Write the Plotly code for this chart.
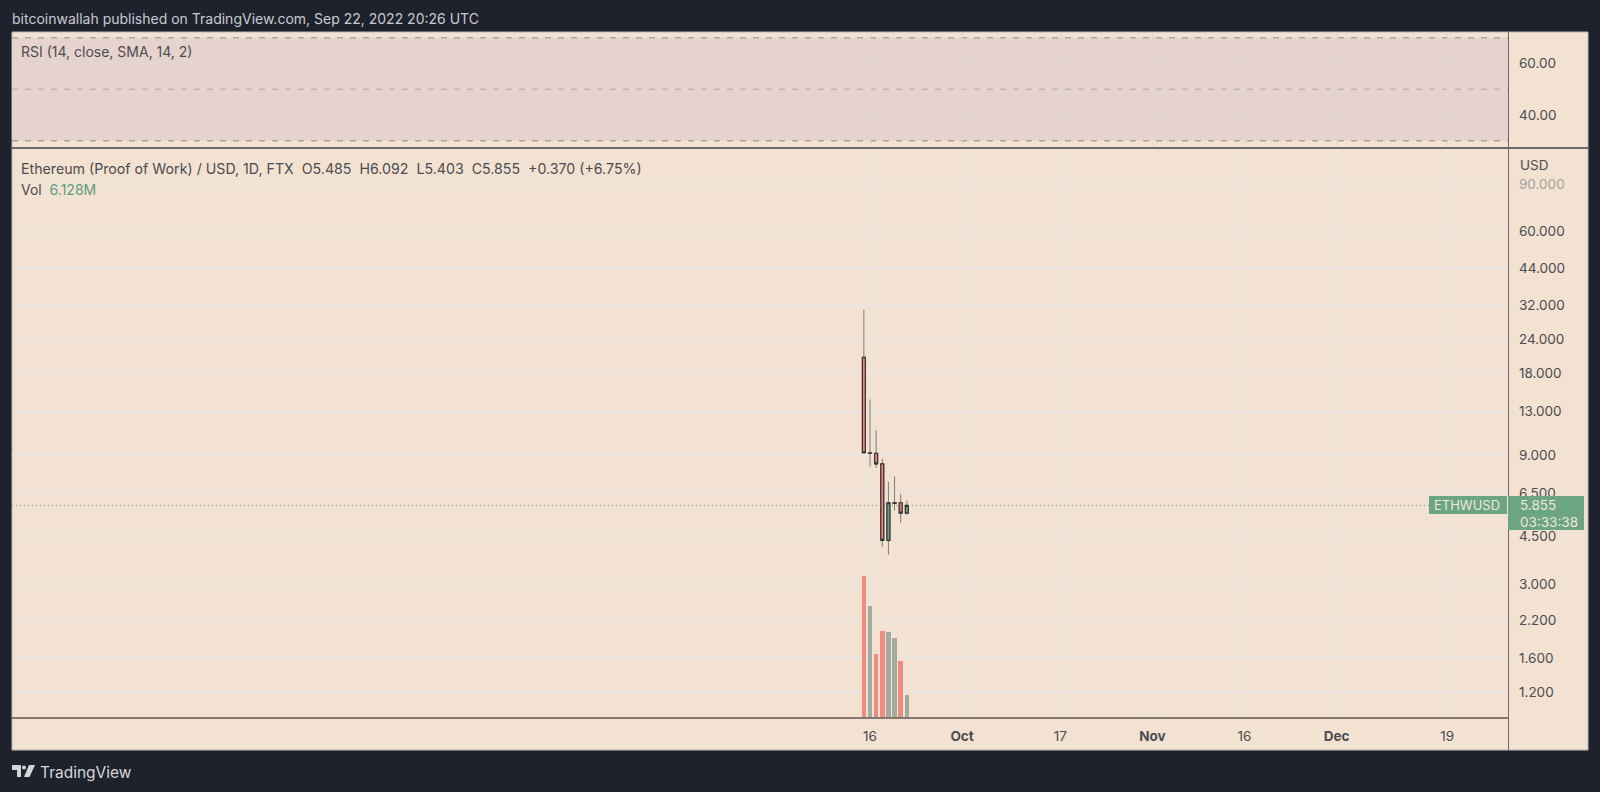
import pandas as pd
import plotly.graph_objects as go

W = 1600
H = 792

# daily candles
dates = ['2022-09-15', '2022-09-16', '2022-09-17', '2022-09-18', '2022-09-19', '2022-09-20', '2022-09-21', '2022-09-22']
opens = [20.6, 9.16, 9.12, 8.34, 4.35, 5.96, 5.99, 5.485]
highs = [30.85, 14.4, 11.1, 8.70, 7.16, 7.49, 6.46, 6.092]
lows = [9.10, 8.13, 8.05, 4.12, 3.85, 5.61, 5.05, 5.403]
closes = [9.16, 9.12, 8.34, 4.35, 5.99, 5.99, 5.485, 5.855]
volumes = [37.9, 29.9, 17.1, 23.2, 22.9, 21.3, 15.2, 6.128]
vol_colors = ['#EF8C80', '#A3AAA0', '#EF8C80', '#EF8C80', '#A3AAA0', '#A3AAA0', '#EF8C80', '#A3AAA0']

price_ticks = [90, 60, 44, 32, 24, 18, 13, 9, 6.5, 4.5, 3, 2.2, 1.6, 1.2]
price_labels = ['<span style="color:#A3A19E">90.000</span>', '60.000', '44.000', '32.000', '24.000', '18.000',
                '13.000', '9.000', '6.500', '4.500', '3.000', '2.200', '1.600', '1.200']
rsi_ticks = [60, 40]
rsi_labels = ['60.00', '40.00']
rsi_bands = [70, 50, 30]
date_ticks = ['2022-09-16', '2022-10-01', '2022-10-17', '2022-11-01', '2022-11-16', '2022-12-01', '2022-12-19']
date_labels = ['16', '<b>Oct</b>', '17', '<b>Nov</b>', '16', '<b>Dec</b>', '19']

BG = '#1E222D'
BEIGE = '#F3E1D1'
PINK = '#E6D3CE'
GRID = '#EBE5E1'
LINE = '#6A6A6C'
TEXT = '#4A4C52'
GREEN = '#6BA583'
RED = '#EF8377'
FONT = 'Inter, Roboto, sans-serif'


def px(x):
    return x / W


def py(y):
    return 1 - y / H


def rect(x0, y0, x1, y1, fill, layer='below', line=None):
    return dict(type='rect', xref='paper', yref='paper', x0=px(x0), x1=px(x1), y0=py(y0), y1=py(y1),
                fillcolor=fill, line=dict(color=line, width=1) if line else dict(width=0), layer=layer)


def seg(x0, y0, x1, y1, color=LINE, width=1):
    return dict(type='line', xref='paper', yref='paper', x0=px(x0), x1=px(x1), y0=py(y0), y1=py(y1),
                line=dict(color=color, width=width), layer='above')


def label(x, y, text, color=TEXT, size=14, font=FONT):
    return dict(xref='paper', yref='paper', x=px(x), y=py(y), text=text, showarrow=False, xanchor='left',
                yanchor='middle', font=dict(color=color, size=size, family=font))


# 6.14 px per day, Sep 16 sits at x=870
sep16 = pd.Timestamp('2022-09-16')
x_start = sep16 + pd.Timedelta(days=(12 - 870) / 6.14)
x_end = sep16 + pd.Timedelta(days=(1508 - 870) / 6.14)
tag_start = sep16 + pd.Timedelta(days=(1429 - 870) / 6.14)

body_high = [max(o, c) for o, c in zip(opens, closes)]
body_low = [min(o, c) for o, c in zip(opens, closes)]

fig = go.Figure()

fig.add_trace(go.Scatter(x=[x_start, x_end], y=[70, 30], mode='none', xaxis='x', yaxis='y', showlegend=False))

fig.add_trace(go.Bar(x=dates, y=volumes, marker=dict(color=vol_colors, line=dict(width=0)),
                     width=0.75 * 86400000, xaxis='x2', yaxis='y3', showlegend=False))

fig.add_trace(go.Scatter(x=[x_start, tag_start], y=[closes[-1], closes[-1]], mode='lines',
                         line=dict(color='#5E8F78', width=1, dash='1px 3px'), xaxis='x2', yaxis='y2', showlegend=False))

# wicks are lighter than the body outline, so two passes
fig.add_trace(go.Candlestick(x=dates, open=opens, high=highs, low=lows, close=closes, xaxis='x2', yaxis='y2',
                             increasing=dict(fillcolor=GREEN, line=dict(color='#7D7A76', width=1)),
                             decreasing=dict(fillcolor=RED, line=dict(color='#7D7A76', width=1)),
                             showlegend=False))
fig.add_trace(go.Candlestick(x=dates, open=opens, high=body_high, low=body_low, close=closes, xaxis='x2', yaxis='y2',
                             increasing=dict(fillcolor=GREEN, line=dict(color='#33343A', width=1.2)),
                             decreasing=dict(fillcolor=RED, line=dict(color='#33343A', width=1.2)),
                             showlegend=False))

shapes = [
    rect(12, 32, 1588, 750, BEIGE, line='#B9B8B3'),
    dict(type='rect', xref='x', yref='y', x0=x_start, x1=x_end, y0=rsi_bands[2], y1=rsi_bands[0],
         fillcolor=PINK, line=dict(width=0), layer='below'),
    seg(1508.5, 32, 1508.5, 750),
    seg(12, 148, 1588, 148, width=2),
    seg(12, 718, 1508, 718, color='#85796F', width=2),
    # price tags
    rect(1429, 496, 1507, 514, GREEN, layer='above'),
    rect(1508, 496, 1584, 530, GREEN, layer='above'),
    # logo
    dict(type='path', xref='paper', yref='paper', fillcolor='#D5D6DA', line=dict(width=0), layer='above',
         path='M {} {} L {} {} L {} {} L {} {} L {} {} L {} {} Z'.format(
             px(12), py(765), px(21), py(765), px(21), py(777), px(17), py(777), px(17), py(770), px(12), py(770))),
    dict(type='circle', xref='paper', yref='paper', fillcolor='#D5D6DA', line=dict(width=0), layer='above',
         x0=px(22), x1=px(26), y0=py(769.5), y1=py(765.5)),
    dict(type='path', xref='paper', yref='paper', fillcolor='#D5D6DA', line=dict(width=0), layer='above',
         path='M {} {} L {} {} L {} {} L {} {} Z'.format(
             px(29), py(765), px(35), py(765), px(29.5), py(777), px(24), py(777))),
]
for level in rsi_bands:
    shapes.append(dict(type='line', xref='x', yref='y', x0=x_start, x1=x_end, y0=level, y1=level, layer='below',
                       line=dict(color='#A3A79D' if level != 50 else '#BDB9B0', width=1.5, dash='6px 7px')))

annotations = [
    label(10, 18.5, 'bitcoinwallah published on TradingView.com, Sep 22, 2022 20:26 UTC', color='#C9CBD1'),
    label(19, 51, 'RSI (14, close, SMA, 14, 2)'),
    label(19, 168, 'Ethereum (Proof of Work) / USD, 1D, FTX&nbsp;&nbsp;O5.485&nbsp;&nbsp;H6.092&nbsp;&nbsp;L5.403&nbsp;&nbsp;C5.855&nbsp;&nbsp;+0.370 (+6.75%)', size=14.2),
    label(19, 189, 'Vol&nbsp;&nbsp;<span style="color:#5F9F80">6.128M</span>'),
    label(1518, 165, 'USD', size=13.5),
    label(1432, 505, 'ETHWUSD', color='#F3E6DA', size=13),
    label(1518, 505, '5.855', color='#F3E6DA', size=13.5),
    label(1518, 522, '03:33:38', color='#F3E6DA', size=13.5),
    label(38, 772, 'TradingView', color='#D5D6DA', size=15.5),
]

common_x = dict(type='date', range=[x_start, x_end], showgrid=True, gridwidth=1, zeroline=False,
                tickmode='array', tickvals=date_ticks, ticks='', showline=False, rangeslider=dict(visible=False))

fig.update_layout(
    width=W,
    height=H,
    autosize=False,
    margin=dict(l=0, r=0, t=0, b=0),
    paper_bgcolor=BG,
    plot_bgcolor='rgba(0,0,0,0)',
    bargap=0,
    font=dict(family=FONT, color=TEXT, size=13.5),
    xaxis=dict(common_x, domain=[px(12), px(1508)], anchor='y', showticklabels=False, gridcolor='#E0D6DA'),
    yaxis=dict(domain=[py(148), py(32)], range=[27.2, 72.25], side='right', anchor='x', showgrid=True,
               gridcolor='#E0D6DA', zeroline=False, tickmode='array', tickvals=rsi_ticks, ticktext=rsi_labels,
               ticks='', ticklabelstandoff=10),
    xaxis2=dict(common_x, domain=[px(12), px(1508)], anchor='y2', ticktext=date_labels, showticklabels=True,
                gridcolor=GRID, gridwidth=1.5, ticklabelstandoff=8, tickfont=dict(color=TEXT, size=13.5)),
    yaxis2=dict(domain=[py(718), py(148)], type='log', range=[-0.0168, 2.0864], side='right', anchor='x2',
                showgrid=True, gridcolor=GRID, gridwidth=1.5, zeroline=False, tickmode='array', tickvals=price_ticks,
                ticktext=price_labels, ticks='', ticklabelstandoff=10),
    yaxis3=dict(domain=[py(718), py(148)], range=[0, 151.9], overlaying='y2', anchor='x2', visible=False),
    shapes=shapes,
    annotations=annotations,
)

fig.write_html("out.html", config=dict(displayModeBar=False),
               post_script="document.body.style.margin='0';document.body.style.background='#1E222D';")
